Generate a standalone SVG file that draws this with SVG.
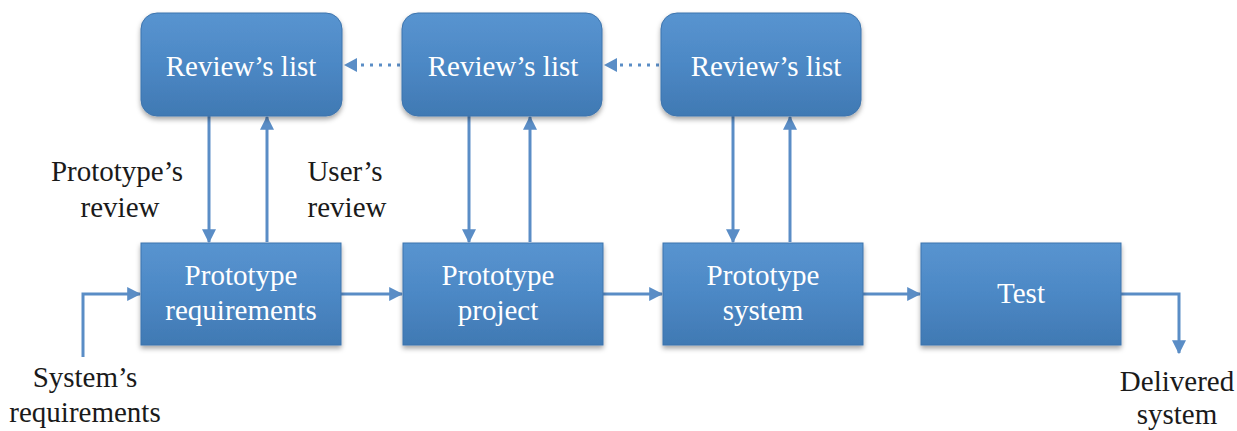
<svg xmlns="http://www.w3.org/2000/svg" width="1237" height="431" viewBox="0 0 1237 431">
<defs>
<linearGradient id="g" x1="0" y1="0" x2="0" y2="1">
<stop offset="0" stop-color="#5894d0"/>
<stop offset="0.5" stop-color="#4c88c5"/>
<stop offset="1" stop-color="#4079b3"/>
</linearGradient>
<filter id="sh" x="-10%" y="-10%" width="120%" height="130%">
<feDropShadow dx="0" dy="3" stdDeviation="2.5" flood-color="#000" flood-opacity="0.35"/>
</filter>
<marker id="a" viewBox="0 0 12 12" refX="11" refY="6" markerWidth="14" markerHeight="14" markerUnits="userSpaceOnUse" orient="auto">
<path d="M0,0 L12,6 L0,12 z" fill="#5a8dc6"/>
</marker>
</defs>
<style>
.box{fill:url(#g);stroke:#3d74ad;stroke-width:1;filter:url(#sh)}
.bt{font-family:"Liberation Serif","Times New Roman",serif;font-size:29px;fill:#fff;text-anchor:middle}
.lb{font-family:"Liberation Serif","Times New Roman",serif;font-size:29px;fill:#1a1a1a;text-anchor:middle}
.c{fill:none;stroke:#5a8dc6;stroke-width:3;marker-end:url(#a)}
.d{fill:none;stroke:#5a8dc6;stroke-width:3;stroke-dasharray:3 6;}
</style>
<g id="connectors">
<line class="c" x1="209" y1="116" x2="209" y2="242"/>
<line class="c" x1="267" y1="242" x2="267" y2="117"/>
<line class="c" x1="469" y1="116" x2="469" y2="242"/>
<line class="c" x1="530" y1="242" x2="530" y2="117"/>
<line class="c" x1="733" y1="116" x2="733" y2="242"/>
<line class="c" x1="790" y1="242" x2="790" y2="117"/>
<line class="d" x1="400" y1="65" x2="358" y2="65"/>
<path d="M344,65 L357,58 L357,72 z" fill="#5a8dc6"/>
<line class="d" x1="659" y1="65" x2="618" y2="65"/>
<path d="M604,65 L617,58 L617,72 z" fill="#5a8dc6"/>
<line class="c" x1="341" y1="294" x2="402" y2="294"/>
<line class="c" x1="603" y1="294" x2="662" y2="294"/>
<line class="c" x1="863" y1="294" x2="920" y2="294"/>
<path class="c" d="M83,357 L83,294 L140,294"/>
<path class="c" d="M1121,294 L1179,294 L1179,353"/>
</g>
<g id="review1">
<rect class="box" x="141" y="13" width="201" height="103" rx="16"/>
<text class="bt" x="241" y="76">Review’s list</text>
</g>
<g id="review2">
<rect class="box" x="402" y="13" width="200" height="103" rx="16"/>
<text class="bt" x="503" y="76">Review’s list</text>
</g>
<g id="review3">
<rect class="box" x="661" y="13" width="200" height="103" rx="16"/>
<text class="bt" x="766" y="76">Review’s list</text>
</g>
<g id="proto-req">
<rect class="box" x="141" y="243" width="200" height="102"/>
<text class="bt" x="241" y="285">Prototype</text>
<text class="bt" x="241" y="320">requirements</text>
</g>
<g id="proto-project">
<rect class="box" x="403" y="243" width="200" height="102"/>
<text class="bt" x="498" y="285">Prototype</text>
<text class="bt" x="498" y="320">project</text>
</g>
<g id="proto-system">
<rect class="box" x="663" y="243" width="200" height="102"/>
<text class="bt" x="763" y="285">Prototype</text>
<text class="bt" x="763" y="320">system</text>
</g>
<g id="test">
<rect class="box" x="921" y="243" width="200" height="102"/>
<text class="bt" x="1021" y="303">Test</text>
</g>
<g id="labels">
<text class="lb" x="117" y="181">Prototype’s</text>
<text class="lb" x="120" y="217">review</text>
<text class="lb" x="345" y="181">User’s</text>
<text class="lb" x="347" y="217">review</text>
<text class="lb" x="85" y="387">System’s</text>
<text class="lb" x="85" y="422">requirements</text>
<text class="lb" x="1177" y="391">Delivered</text>
<text class="lb" x="1177" y="424">system</text>
</g>
</svg>
